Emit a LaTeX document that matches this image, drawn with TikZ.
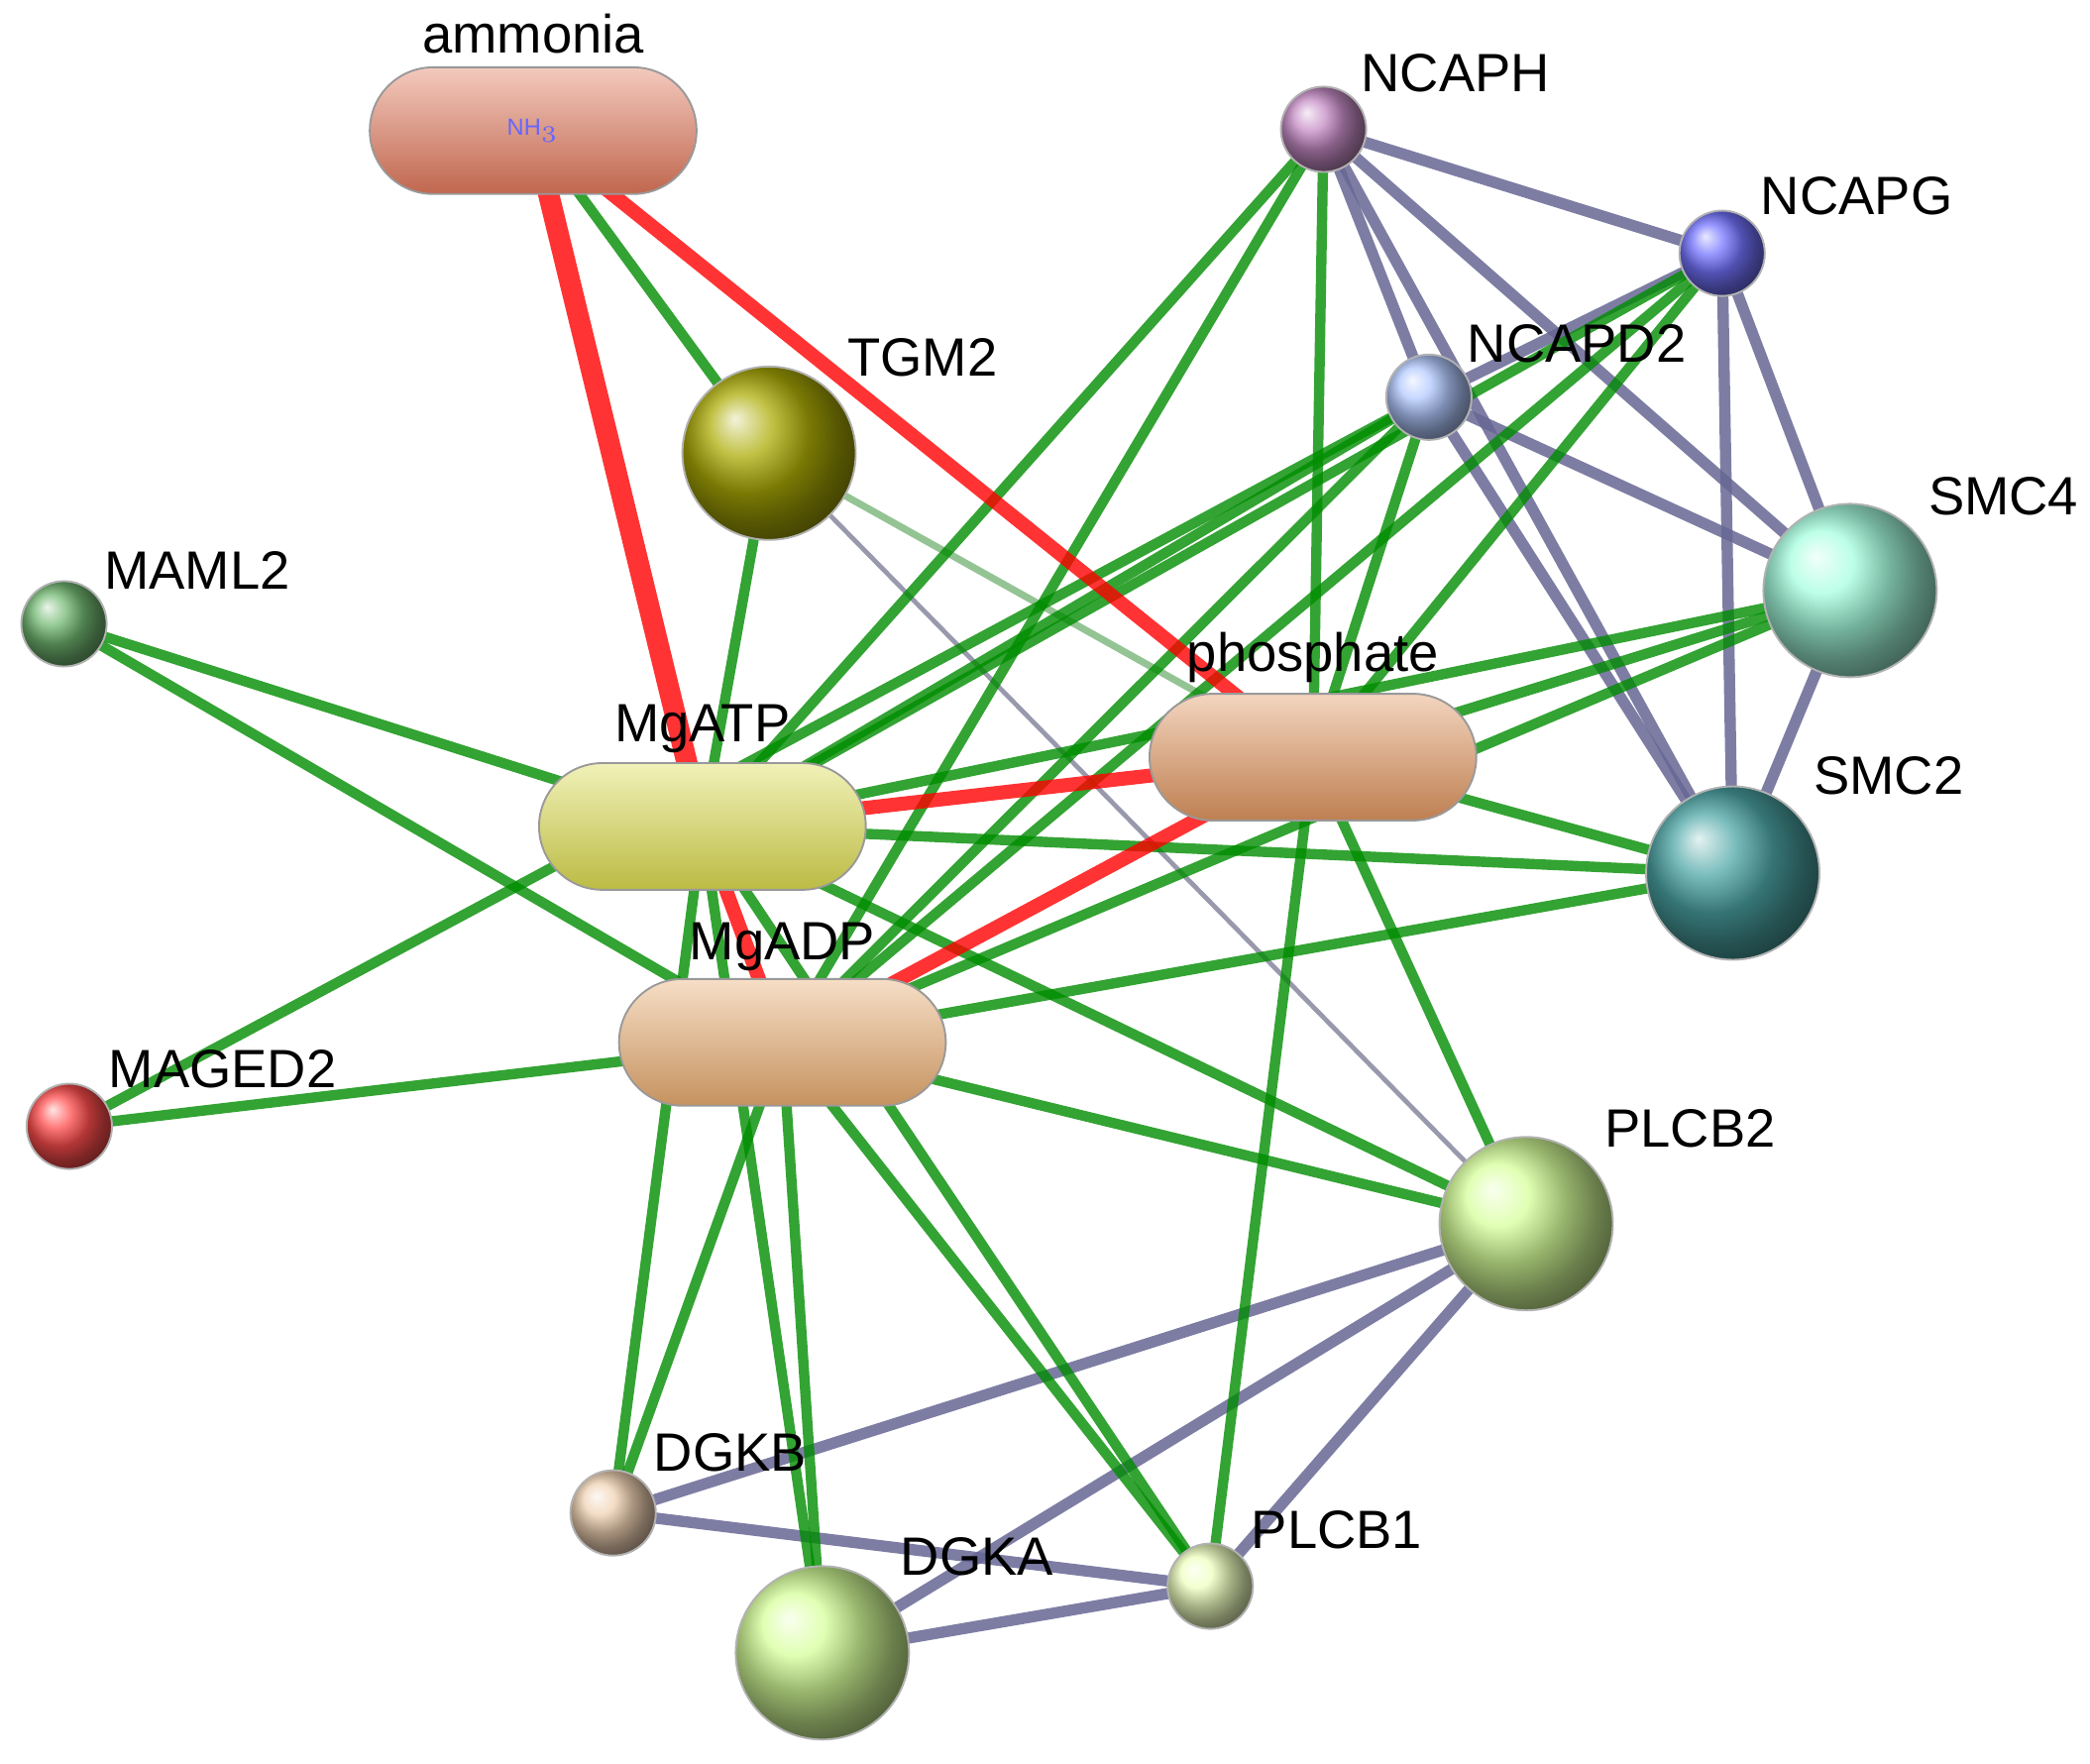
\documentclass[tikz,border=0pt]{standalone}
\usepackage{fontspec}
\setmainfont{Liberation Sans}
\usetikzlibrary{shapes.misc}
\colorlet{cAmm}{red!40!brown!75}
\colorlet{cPhos}{red!30!orange!35!brown!75}
\colorlet{cATP}{yellow!50!olive!55}
\colorlet{cADP}{orange!45!brown!65}
\begin{document}
\begin{tikzpicture}[x=0.01cm,y=-0.01cm,
  big/.style={circle,minimum size=1.3cm,inner sep=0pt,draw=black!30,ball color=#1},
  small/.style={circle,minimum size=0.64cm,inner sep=0pt,draw=black!30,ball color=#1},
  pill/.style={rounded rectangle,minimum width=2.45cm,minimum height=0.95cm,inner sep=0pt,draw=black!40,top color=#1!40,bottom color=#1!85!black},
  lab/.style={font=\fontsize{11.5}{13}\selectfont},
  g/.style={draw=green!55!black,opacity=0.8,line width=2.2pt},
  lg/.style={draw=green!45!black!60,opacity=0.7,line width=1.5pt},
  r/.style={draw=red,opacity=0.8,line width=3pt},
  k/.style={draw=blue!30!black!60,opacity=0.85,line width=2.4pt},
  th/.style={draw=blue!20!black!40,line width=1pt}]
\useasboundingbox (0,0) rectangle (1568,1323);
\coordinate (pammonia) at (400,98);
\coordinate (pphos) at (985,568);
\coordinate (patp) at (527,620);
\coordinate (padp) at (587,782);
\coordinate (NCAPH) at (993,97);
\coordinate (NCAPG) at (1292,190);
\coordinate (NCAPD2) at (1072,298);
\coordinate (TGM2) at (577,340);
\coordinate (SMC4) at (1388,443);
\coordinate (MAML2) at (48,468);
\coordinate (SMC2) at (1300,655);
\coordinate (MAGED2) at (52,845);
\coordinate (PLCB2) at (1145,918);
\coordinate (DGKB) at (460,1135);
\coordinate (PLCB1) at (908,1190);
\coordinate (DGKA) at (617,1240);
\foreach \a/\b in {NCAPH/NCAPG,NCAPH/NCAPD2,NCAPH/SMC4,NCAPH/SMC2,NCAPG/NCAPD2,NCAPG/SMC4,NCAPG/SMC2,NCAPD2/SMC4,NCAPD2/SMC2,SMC4/SMC2,PLCB2/DGKB,PLCB2/DGKA,PLCB2/PLCB1,DGKB/PLCB1,DGKA/PLCB1}
  \path[k] (\a) -- (\b);
\path[th] (TGM2) -- (PLCB2);
\path[lg] (TGM2) -- (pphos);
\foreach \a/\b in {pammonia/TGM2,TGM2/patp,MAML2/patp,MAML2/padp,MAGED2/padp,MAGED2/NCAPD2,
  NCAPH/patp,NCAPH/padp,NCAPH/pphos,NCAPG/patp,NCAPG/padp,NCAPG/pphos,
  NCAPD2/patp,NCAPD2/padp,NCAPD2/pphos,SMC4/patp,SMC4/padp,SMC4/pphos,
  SMC2/patp,SMC2/padp,SMC2/pphos,patp/PLCB2,padp/PLCB2,pphos/PLCB2,pphos/PLCB1,
  patp/DGKB,padp/DGKB,patp/DGKA,padp/DGKA,patp/PLCB1,padp/PLCB1}
  \path[g] (\a) -- (\b);
\path[r,line width=4.5pt] (pammonia) -- (patp);
\path[r] (pammonia) -- (pphos);
\path[r] (patp) -- (pphos);
\path[r] (patp) -- (padp);
\path[r] (padp) -- (pphos);
\node[pill=cAmm] (ammonia) at (pammonia) {\tiny\color{blue!60}NH$_3$};
\node[pill=cPhos] (phosphate) at (pphos) {};
\node[pill=cATP] (MgATP) at (patp) {};
\node[pill=cADP] (MgADP) at (padp) {};
\node[small=violet!45!white] (nNCAPH) at (NCAPH) {};
\node[small=blue!55!white] (nNCAPG) at (NCAPG) {};
\node[small=cyan!30!blue!30!white] (nNCAPD2) at (NCAPD2) {};
\node[big=olive!65!white] (nTGM2) at (TGM2) {};
\node[big=green!35!cyan!35!white] (nSMC4) at (SMC4) {};
\node[small=green!50!black!55!white] (nMAML2) at (MAML2) {};
\node[big=teal!70!white] (nSMC2) at (SMC2) {};
\node[small=red!70!white] (nMAGED2) at (MAGED2) {};
\node[big=green!40!yellow!40!white] (nPLCB2) at (PLCB2) {};
\node[small=orange!35!brown!35!white] (nDGKB) at (DGKB) {};
\node[small=green!25!yellow!25!white] (nPLCB1) at (PLCB1) {};
\node[big=green!40!yellow!40!white] (nDGKA) at (DGKA) {};
\node[lab] (lammonia) at (400,25) {ammonia};
\node[lab] (lNCAPH) at (1092,55) {NCAPH};
\node[lab] (lNCAPG) at (1393,147) {NCAPG};
\node[lab] (lNCAPD2) at (1183,258) {NCAPD2};
\node[lab] (lTGM2) at (692,268) {TGM2};
\node[lab] (lSMC4) at (1503,372) {SMC4};
\node[lab] (lMAML2) at (148,428) {MAML2};
\node[lab] (lphos) at (985,493) {phosphate};
\node[lab] (lMgATP) at (527,547) {MgATP};
\node[lab] (lSMC2) at (1417,582) {SMC2};
\node[lab] (lMgADP) at (587,710) {MgADP};
\node[lab] (lMAGED2) at (167,802) {MAGED2};
\node[lab] (lPLCB2) at (1268,847) {PLCB2};
\node[lab] (lDGKB) at (548,1090) {DGKB};
\node[lab] (lPLCB1) at (1003,1148) {PLCB1};
\node[lab] (lDGKA) at (733,1168) {DGKA};
\end{tikzpicture}
\end{document}
